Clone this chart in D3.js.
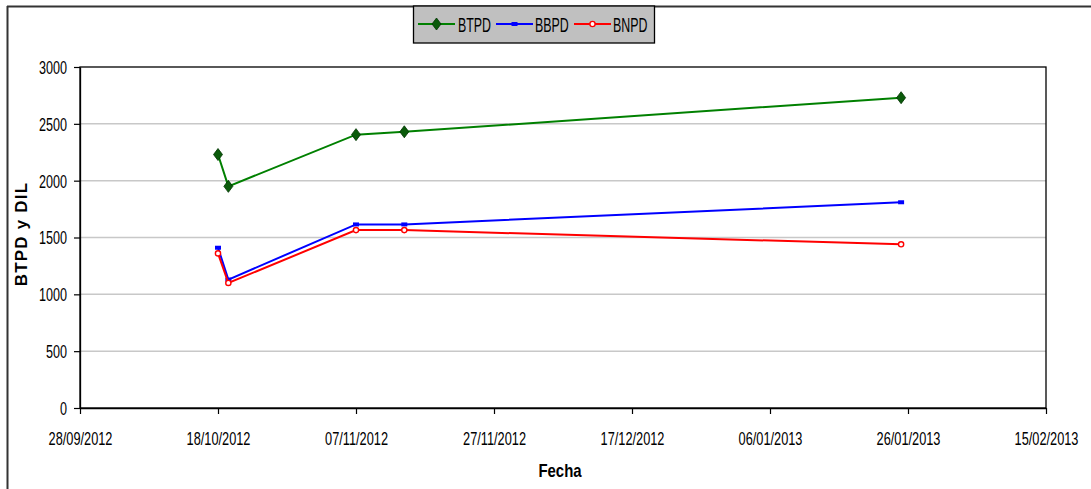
<!DOCTYPE html>
<html>
<head>
<meta charset="utf-8">
<script src="https://cdn.jsdelivr.net/npm/d3@7"></script>
<style>
  body { margin: 0; background: #fff; }
  text { font-family: "Liberation Sans", Arial, sans-serif; }
</style>
</head>
<body>
<div id="container"></div>
<script>
// data
var dates = ["2012-10-18", "2012-10-19T12:00", "2012-11-07", "2012-11-14", "2013-01-25"];
var btpd = [2230, 1950, 2405, 2430, 2730];
var bbpd = [1410, 1130, 1615, 1615, 1810];
var bnpd = [1360, 1100, 1565, 1565, 1440];
var xTicks = ["2012-09-28", "2012-10-18", "2012-11-07", "2012-11-27", "2012-12-17", "2013-01-06", "2013-01-26", "2013-02-15"];
var yTicks = [0, 500, 1000, 1500, 2000, 2500, 3000];
var seriesNames = ["BTPD", "BBPD", "BNPD"];

const W = 1091, H = 489;
const LEFT = 80, RIGHT = 1046, TOP = 67, BOTTOM = 408;

var parse = function (s) {
    return s.length > 10 ? d3.utcParse("%Y-%m-%dT%H:%M")(s) : d3.utcParse("%Y-%m-%d")(s);
};
var fmt = d3.utcFormat("%d/%m/%Y");

var svg = d3.select("#container").append("svg")
    .attr("width", W)
    .attr("height", H);

var x = d3.scaleUtc()
    .domain([parse(xTicks[0]), parse(xTicks[xTicks.length - 1])])
    .range([LEFT, RIGHT]);
var y = d3.scaleLinear().domain([0, 3000]).range([BOTTOM, TOP]);

// outer frame
svg.append("line").attr("x1", 7).attr("x2", W).attr("y1", 6.5).attr("y2", 6.5)
    .attr("stroke", "#333").attr("stroke-width", 2);
svg.append("line").attr("x1", 7.5).attr("x2", 7.5).attr("y1", 6).attr("y2", H)
    .attr("stroke", "#333").attr("stroke-width", 2);

// gridlines
svg.append("g").selectAll("line")
    .data(yTicks.filter(function (d) { return d > 0 && d < 3000; }))
    .enter().append("line")
    .attr("x1", LEFT).attr("x2", RIGHT)
    .attr("y1", function (d) { return y(d); })
    .attr("y2", function (d) { return y(d); })
    .attr("stroke", "#c8c8c8").attr("stroke-width", 1.5);

// plot border
svg.append("rect")
    .attr("x", LEFT).attr("y", TOP)
    .attr("width", RIGHT - LEFT).attr("height", BOTTOM - TOP)
    .attr("fill", "none").attr("stroke", "#000").attr("stroke-width", 1.3);

// axes
var xAxis = svg.append("g")
    .attr("transform", "translate(0," + BOTTOM + ")")
    .call(d3.axisBottom(x).tickValues(xTicks.map(parse)).tickFormat(fmt).tickSize(6).tickSizeOuter(0));
xAxis.select(".domain").attr("stroke-width", 1.3);
xAxis.selectAll(".tick line").attr("stroke-width", 1.2);
xAxis.selectAll(".tick text")
    .attr("y", 37).attr("dy", 0)
    .attr("font-size", 18)
    .attr("fill", "#000")
    .attr("transform", "scale(0.71,1)");

var yAxis = svg.append("g")
    .attr("transform", "translate(" + LEFT + ",0)")
    .call(d3.axisLeft(y).tickValues(yTicks).tickFormat(d3.format("d")).tickSize(6).tickSizeOuter(0));
yAxis.select(".domain").attr("stroke-width", 1.3);
yAxis.selectAll(".tick line").attr("stroke-width", 1.2);
yAxis.selectAll(".tick text")
    .attr("x", -13 / 0.7).attr("dy", "0.36em")
    .attr("font-size", 18)
    .attr("fill", "#000")
    .attr("transform", "scale(0.7,1)");

// axis titles
svg.append("text")
    .attr("transform", "translate(560,477) scale(0.83,1)")
    .attr("text-anchor", "middle")
    .attr("font-size", 18).attr("font-weight", "bold")
    .text("Fecha");
svg.append("text")
    .attr("transform", "translate(27,234) rotate(-90)")
    .attr("text-anchor", "middle")
    .attr("font-size", 17).attr("font-weight", "bold")
    .attr("letter-spacing", 1.2)
    .text("BTPD y DIL");

// markers
var drawMarker = function (g, kind, color) {
    if (kind === 0) {
        g.append("path").attr("d", "M0,-6L4.5,0L0,6L-4.5,0Z")
            .attr("fill", "#0a5a0a").attr("stroke", "#003300").attr("stroke-width", 0.8);
    } else if (kind === 1) {
        g.append("rect").attr("x", -3).attr("y", -2).attr("width", 6).attr("height", 4)
            .attr("fill", color);
    } else {
        g.append("circle").attr("r", 2.6)
            .attr("fill", "#fff").attr("stroke", color).attr("stroke-width", 1.4);
    }
};

var colors = ["#008000", "#0000ff", "#ff0000"];
var allSeries = [btpd, bbpd, bnpd];
var line = d3.line()
    .x(function (d) { return x(d.date); })
    .y(function (d) { return y(d.value); });

allSeries.forEach(function (values, i) {
    var pts = values.map(function (v, j) { return { date: parse(dates[j]), value: v }; });
    svg.append("path")
        .datum(pts)
        .attr("d", line)
        .attr("fill", "none")
        .attr("stroke", colors[i])
        .attr("stroke-width", 2);
    pts.forEach(function (p) {
        var g = svg.append("g").attr("transform", "translate(" + x(p.date) + "," + y(p.value) + ")");
        drawMarker(g, i, colors[i]);
    });
});

// legend
var legend = svg.append("g");
legend.append("rect")
    .attr("x", 413.5).attr("y", 6).attr("width", 241).attr("height", 37)
    .attr("fill", "#c0c0c0").attr("stroke", "#000").attr("stroke-width", 1.3);
var legendItems = [
    { x0: 418, x1: 455, tx: 458 },
    { x0: 496, x1: 533, tx: 535 },
    { x0: 574, x1: 611, tx: 613 }
];
legendItems.forEach(function (it, i) {
    legend.append("line")
        .attr("x1", it.x0).attr("x2", it.x1).attr("y1", 24).attr("y2", 24)
        .attr("stroke", colors[i]).attr("stroke-width", 2);
    var g = legend.append("g").attr("transform", "translate(" + ((it.x0 + it.x1) / 2) + ",24)");
    drawMarker(g, i, colors[i]);
    legend.append("text")
        .attr("transform", "translate(" + it.tx + ",32) scale(0.62,1)")
        .attr("font-size", 20)
        .text(seriesNames[i]);
});
</script>
</body>
</html>
